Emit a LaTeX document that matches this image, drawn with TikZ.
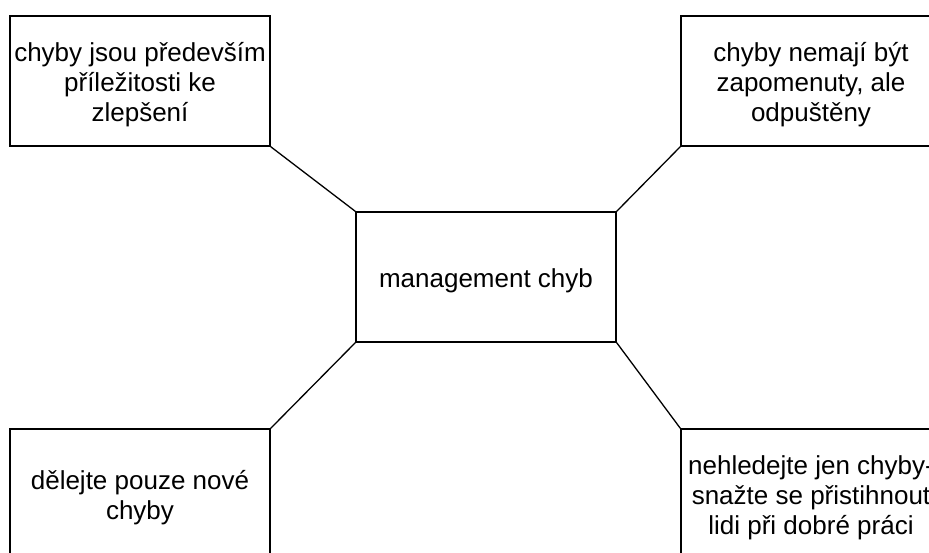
\documentclass[tikz,border=0pt]{standalone}
\usepackage{fontspec}
\setmainfont{Liberation Sans}
\begin{document}
\begin{tikzpicture}[x=1pt,y=-1pt,
    box/.style={draw, line width=1.3pt, minimum width=260, minimum height=130},
    txt/.style={align=center, inner sep=0pt, yshift=-4pt, font=\fontsize{26}{30}\selectfont},
    spoke/.style={line width=1.3pt}]
    \useasboundingbox (0,0) rectangle (929,552);
    \clip (0,0) rectangle (929,552);
    \node [box] (mgmt) at (486,277) {};
    \node [box] (prilez) at (140,81) {};
    \node [box] (odpust) at (811,81) {};
    \node [box] (nove) at (140,494) {};
    \node [box] (prace) at (811,494) {};
    \node [txt] at (mgmt.center) {management chyb};
    \node [txt] at (prilez.center) {chyby jsou především\\příležitosti ke\\zlepšení};
    \node [txt] at (odpust.center) {chyby nemají být\\zapomenuty, ale\\odpuštěny};
    \node [txt] at (nove.center) {dělejte pouze nové\\chyby};
    \node [txt] at (prace.center) {nehledejte jen chyby-\\snažte se přistihnout\\lidi při dobré práci};
    \draw [spoke] (mgmt.north west)--(prilez.south east);
    \draw [spoke] (mgmt.north east)--(odpust.south west);
    \draw [spoke] (mgmt.south west)--(nove.north east);
    \draw [spoke] (mgmt.south east)--(prace.north west);
\end{tikzpicture}
\end{document}
